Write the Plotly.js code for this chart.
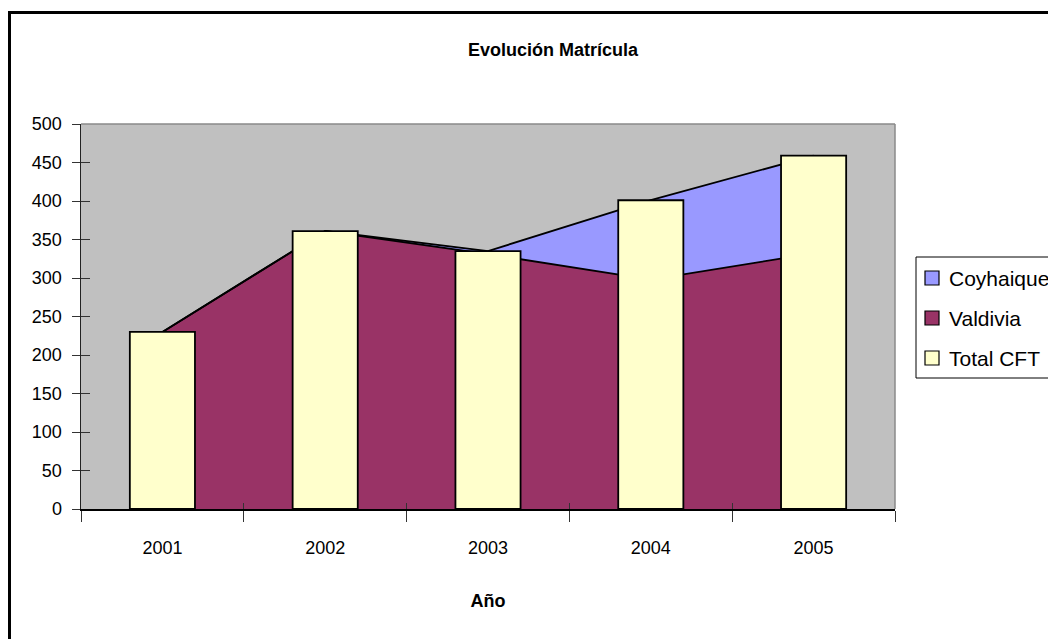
<!DOCTYPE html>
<html><head><meta charset="utf-8">
<script src="https://cdn.plot.ly/plotly-3.0.1.min.js"></script>
<style>html,body{margin:0;padding:0;background:#fff;overflow:hidden}</style>
</head><body><div id="chart" style="width:1048px;height:639px"></div>
<script>
const years = ['2001', '2002', '2003', '2004', '2005'];
const valdivia = [230, 361, 331, 298, 332];
const coyhaique = [0, 0, 4, 103, 127];
const totalCFT = [230, 361, 335, 401, 459];
const yTickVals = [0, 50, 100, 150, 200, 250, 300, 350, 400, 450, 500];
const legendNames = ['Coyhaique', 'Valdivia', 'Total CFT'];
const legendColors = ['#9999FF', '#993366', '#FFFFCC'];

const F = '"Liberation Sans", Arial, Helvetica, sans-serif';
const PT = 124, PB = 509, PL = 81, PR = 895;
const ph = PB - PT, pw = PR - PL;
const px = v => (v - PL) / pw;
const py = v => (PB - v) / ph;

const traces = [
  {type: 'scatter', mode: 'lines', x: years, y: valdivia, stackgroup: 'a', name: 'Valdivia',
   fillcolor: '#993366', line: {color: '#000', width: 1.8}, showlegend: false, hoverinfo: 'skip',
   xaxis: 'x', yaxis: 'y'},
  {type: 'scatter', mode: 'lines', x: years, y: coyhaique, stackgroup: 'a', name: 'Coyhaique',
   fillcolor: '#9999FF', line: {color: '#000', width: 1.8}, showlegend: false, hoverinfo: 'skip',
   xaxis: 'x', yaxis: 'y'},
  {type: 'bar', x: years, y: totalCFT, name: 'Total CFT', width: 0.4,
   marker: {color: '#FFFFCC', line: {color: '#000', width: 1.8}},
   xaxis: 'x2', yaxis: 'y2', showlegend: false}
];

const shapes = [
  {type: 'line', xref: 'paper', yref: 'paper', x0: 0, x1: 1, y0: 1, y1: 1, line: {color: '#8a8a8a', width: 1.5}},
  {type: 'line', xref: 'paper', yref: 'paper', x0: 1, x1: 1, y0: 0, y1: 1, line: {color: '#8a8a8a', width: 1.5}},
  {type: 'rect', xref: 'paper', yref: 'paper', x0: px(916), x1: px(1120), y0: py(378), y1: py(257),
   fillcolor: '#ffffff', line: {color: '#000', width: 1}, layer: 'above'},
  {type: 'rect', xref: 'paper', yref: 'paper', x0: px(9.5), x1: px(1120), y0: py(720), y1: py(12.5),
   fillcolor: 'rgba(0,0,0,0)', line: {color: '#000', width: 3}, layer: 'above'}
];
const annotations = [];
legendNames.forEach((name, i) => {
  const cy = 278 + 40 * i;
  shapes.push({type: 'rect', xref: 'paper', yref: 'paper', x0: px(925), x1: px(939), y0: py(cy + 7), y1: py(cy - 7),
               fillcolor: legendColors[i], line: {color: '#000', width: 1.2}, layer: 'above'});
  annotations.push({xref: 'paper', yref: 'paper', x: px(947), y: py(cy), xanchor: 'left', yanchor: 'middle',
                    text: name, showarrow: false, font: {family: F, size: 21, color: '#000'}});
});

const layout = {
  width: 1048, height: 639,
  margin: {l: PL, r: 1048 - PR, t: PT, b: 639 - PB, pad: 0},
  paper_bgcolor: '#ffffff', plot_bgcolor: '#C0C0C0',
  font: {family: F, size: 18, color: '#000'},
  barmode: 'overlay',
  showlegend: false,
  title: {text: 'Evolución Matrícula', font: {family: F, size: 18, weight: 'bold', color: '#000'},
          xref: 'container', yref: 'container', x: 553 / 1048, xanchor: 'center', y: 1 - 50 / 639, yanchor: 'middle'},
  xaxis: {type: 'category', categoryorder: 'array', categoryarray: years, range: [-0.5, 4.5],
          tickson: 'boundaries', ticks: 'outside', ticklen: 11, tickcolor: '#333', tickwidth: 1,
          showline: true, linecolor: '#000', linewidth: 2, showgrid: false, zeroline: false,
          ticklabelstandoff: 21, tickfont: {family: F, size: 18},
          title: {text: 'Año', font: {family: F, size: 18, weight: 'bold'}, standoff: 38},
          automargin: false, fixedrange: true},
  yaxis: {range: [0, 500], tickvals: yTickVals, ticktext: yTickVals.map(String),
          ticks: 'outside', ticklen: 8, tickcolor: '#333', tickwidth: 1,
          showline: true, linecolor: '#222', linewidth: 1.5, showgrid: false, zeroline: false,
          ticklabelstandoff: 6, tickfont: {family: F, size: 18}, automargin: false, fixedrange: true},
  xaxis2: {type: 'category', categoryorder: 'array', categoryarray: years, range: [-0.5, 4.5],
           overlaying: 'x', side: 'bottom', tickson: 'boundaries', ticks: 'inside', ticklen: 6,
           tickcolor: '#333', tickwidth: 1, showticklabels: false, showgrid: false, zeroline: false,
           showline: false, fixedrange: true},
  yaxis2: {range: [0, 500], overlaying: 'y', side: 'left', tickvals: yTickVals, ticks: 'inside', ticklen: 9,
           tickcolor: '#333', tickwidth: 1, showticklabels: false, showgrid: false, zeroline: false,
           showline: false, fixedrange: true},
  shapes: shapes,
  annotations: annotations,
  hovermode: false
};

Plotly.newPlot('chart', traces, layout, {displayModeBar: false, staticPlot: true});
</script></body></html>
